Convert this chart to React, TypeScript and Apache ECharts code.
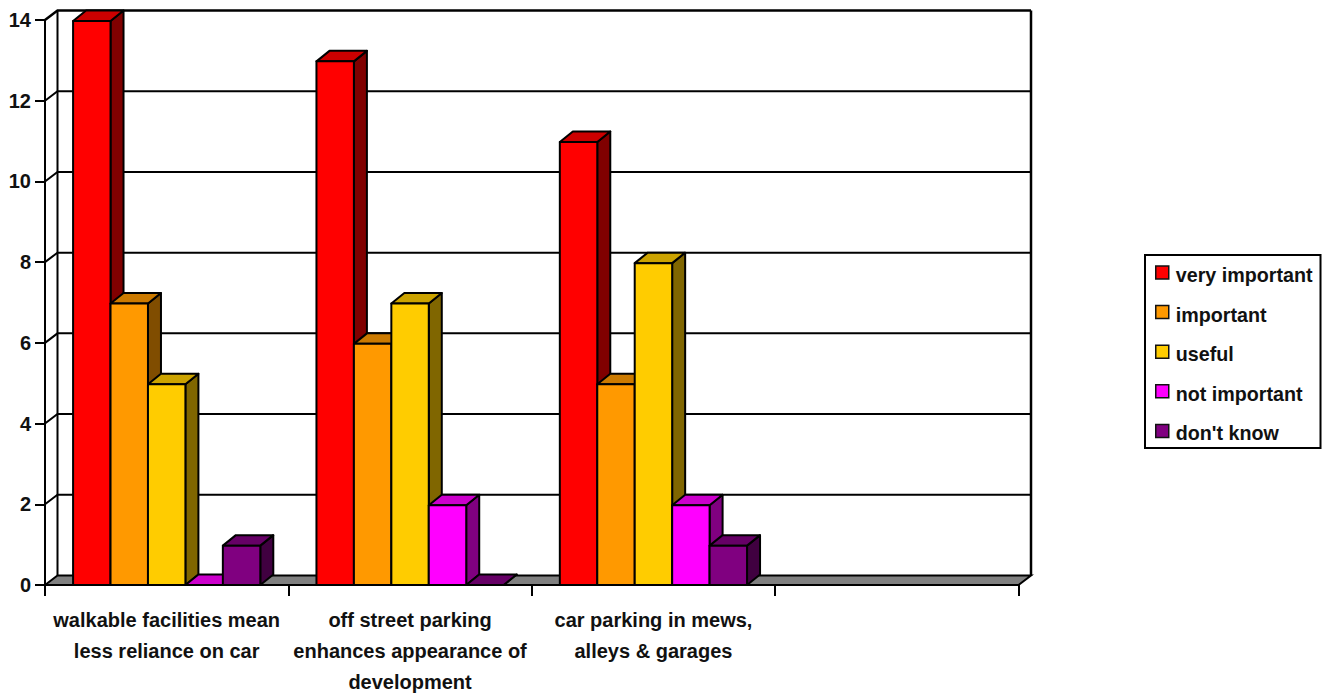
import React, { useEffect, useRef } from "react";
import * as echarts from "echarts";

const categories = [
  "walkable facilities mean\nless reliance on car",
  "off street parking\nenhances appearance of\ndevelopment",
  "car parking in mews,\nalleys & garages",
  "",
];
const seriesNames = ["very important", "important", "useful", "not important", "don't know"];
const veryImportant = [14, 13, 11];
const important = [7, 6, 5];
const useful = [5, 7, 8];
const notImportant = [0, 2, 2];
const dontKnow = [1, 0, 1];
const seriesValues = [veryImportant, important, useful, notImportant, dontKnow];
const frontColors = ["#ff0000", "#ff9900", "#ffcc00", "#ff00ff", "#800080"];
const topColors = ["#cc0000", "#cc7a00", "#cca300", "#cc00cc", "#660066"];
const sideColors = ["#800000", "#804d00", "#806600", "#800080", "#400040"];
const yTicks = [0, 2, 4, 6, 8, 10, 12, 14];

const DEPTH_X = 12.5;
const DEPTH_Y = -9.5;
const BAR_DEPTH_X = 13;
const BAR_DEPTH_Y = -10.5;
const BAR_TOP_INSET = 1;
const INK = "#000";
const FONT = "'Liberation Sans', Arial, sans-serif";

// Back wall, floor and gridlines of the pseudo-3D plot box.
function renderFrame(params: any, api: any) {
  const value = api.value(1);
  const rect = params.coordSys;
  const y = api.coord([0, value])[1];
  const left = rect.x;
  const right = rect.x + rect.width;
  const children: any[] = [];
  const lineStyle = { stroke: INK, lineWidth: value === 14 ? 2.5 : 2, fill: "none" };
  if (value === 0) {
    children.push({
      type: "polygon",
      shape: {
        points: [
          [left, y],
          [left + DEPTH_X, y + DEPTH_Y],
          [right + DEPTH_X, y + DEPTH_Y],
          [right, y],
        ],
      },
      style: { fill: "#808080", stroke: INK, lineWidth: 2 },
    });
    const topY = api.coord([0, yTicks[yTicks.length - 1]])[1];
    children.push({
      type: "polyline",
      shape: {
        points: [
          [left + DEPTH_X, y + DEPTH_Y],
          [left + DEPTH_X, topY + DEPTH_Y],
        ],
      },
      style: lineStyle,
    });
    children.push({
      type: "polyline",
      shape: {
        points: [
          [right + DEPTH_X, y + DEPTH_Y],
          [right + DEPTH_X, topY + DEPTH_Y],
        ],
      },
      style: { ...lineStyle, lineWidth: 2.5 },
    });
  } else {
    children.push({
      type: "polyline",
      shape: {
        points: [
          [left, y],
          [left + DEPTH_X, y + DEPTH_Y],
          [right + DEPTH_X, y + DEPTH_Y],
        ],
      },
      style: lineStyle,
    });
  }
  return { type: "group", children };
}

// One extruded bar: front face, top face and right side face.
function makeBarRenderer(seriesIndex: number) {
  return (_params: any, api: any) => {
    const value = api.value(1);
    const base = api.coord([api.value(0), 0]);
    const tip = api.coord([api.value(0), value]);
    const band = api.size([1, 0])[0];
    const w = band / 6.5;
    const x0 = base[0] - 2.5 * w + seriesIndex * w;
    const x1 = x0 + w;
    const yb = base[1];
    const yt = value > 0 ? tip[1] + BAR_TOP_INSET : tip[1];
    const border = { stroke: INK, lineWidth: 2, lineJoin: "round" };
    return {
      type: "group",
      children: [
        {
          type: "polygon",
          shape: {
            points: [
              [x1, yb],
              [x1 + BAR_DEPTH_X, yb + BAR_DEPTH_Y],
              [x1 + BAR_DEPTH_X, yt + BAR_DEPTH_Y],
              [x1, yt],
            ],
          },
          style: { fill: sideColors[seriesIndex], ...border },
        },
        {
          type: "polygon",
          shape: {
            points: [
              [x0, yt],
              [x0 + BAR_DEPTH_X, yt + BAR_DEPTH_Y],
              [x1 + BAR_DEPTH_X, yt + BAR_DEPTH_Y],
              [x1, yt],
            ],
          },
          style: { fill: topColors[seriesIndex], ...border },
        },
        {
          type: "rect",
          shape: { x: x0, y: yt, width: w, height: yb - yt },
          style: { fill: frontColors[seriesIndex], ...border },
        },
      ],
    };
  };
}

export default function App() {
  const ref = useRef<HTMLDivElement>(null);

  useEffect(() => {
    if (!ref.current) return;
    const chart = echarts.init(ref.current, undefined, { renderer: "svg" });
    chart.setOption({
      animation: false,
      backgroundColor: "#fff",
      grid: { left: 45, top: 20, width: 973.5, height: 565, containLabel: false, outerBoundsMode: "none" },
      legend: {
        show: true,
        orient: "vertical",
        left: 1145,
        top: 255,
        padding: [10, 8, 4.6, 10],
        itemWidth: 13,
        itemHeight: 13,
        itemGap: 19.6,
        icon: "rect",
        borderColor: INK,
        borderWidth: 2,
        backgroundColor: "#fff",
        selectedMode: false,
        data: seriesNames,
        itemStyle: { borderColor: "#111", borderWidth: 1.5 },
        formatter: "{label|{name}}",
        textStyle: {
          fontFamily: FONT,
          fontWeight: "bold",
          fontSize: 19.7,
          color: "#111",
          rich: {
            label: {
              fontFamily: FONT,
              fontWeight: "bold",
              fontSize: 19.7,
              color: "#111",
              lineHeight: 25,
              verticalAlign: "bottom",
              padding: [0, 0, 0, 2],
            },
          },
        },
      },
      xAxis: {
        type: "category",
        data: categories,
        boundaryGap: true,
        axisLine: { show: true, lineStyle: { color: INK, width: 2 } },
        axisTick: { show: true, length: 11, lineStyle: { color: INK, width: 2 } },
        axisLabel: {
          interval: 0,
          margin: 19,
          fontFamily: FONT,
          fontWeight: "bold",
          fontSize: 20,
          lineHeight: 31,
          color: "#111",
          hideOverlap: false,
        },
        splitLine: { show: false },
      },
      yAxis: {
        type: "value",
        min: 0,
        max: 14,
        interval: 2,
        axisLine: { show: true, lineStyle: { color: INK, width: 2 } },
        axisTick: { show: true, length: 10, lineStyle: { color: INK, width: 2 } },
        axisLabel: {
          margin: 14,
          fontFamily: FONT,
          fontWeight: "bold",
          fontSize: 20,
          color: "#111",
        },
        splitLine: { show: false },
      },
      series: [
        {
          type: "custom",
          silent: true,
          z: 1,
          renderItem: renderFrame,
          encode: { x: 0, y: 1 },
          data: yTicks.map((t) => [0, t]),
        },
        ...seriesNames.map((name, i) => ({
          type: "custom",
          name,
          z: 2 + i,
          itemStyle: { color: frontColors[i] },
          renderItem: makeBarRenderer(i),
          encode: { x: 0, y: 1 },
          data: seriesValues[i].map((v, c) => [c, v]),
        })),
      ],
    });
    return () => chart.dispose();
  }, []);

  return (
    <div
      ref={ref}
      style={{ position: "fixed", left: 0, top: 0, width: 1332, height: 698, background: "#fff" }}
    />
  );
}
